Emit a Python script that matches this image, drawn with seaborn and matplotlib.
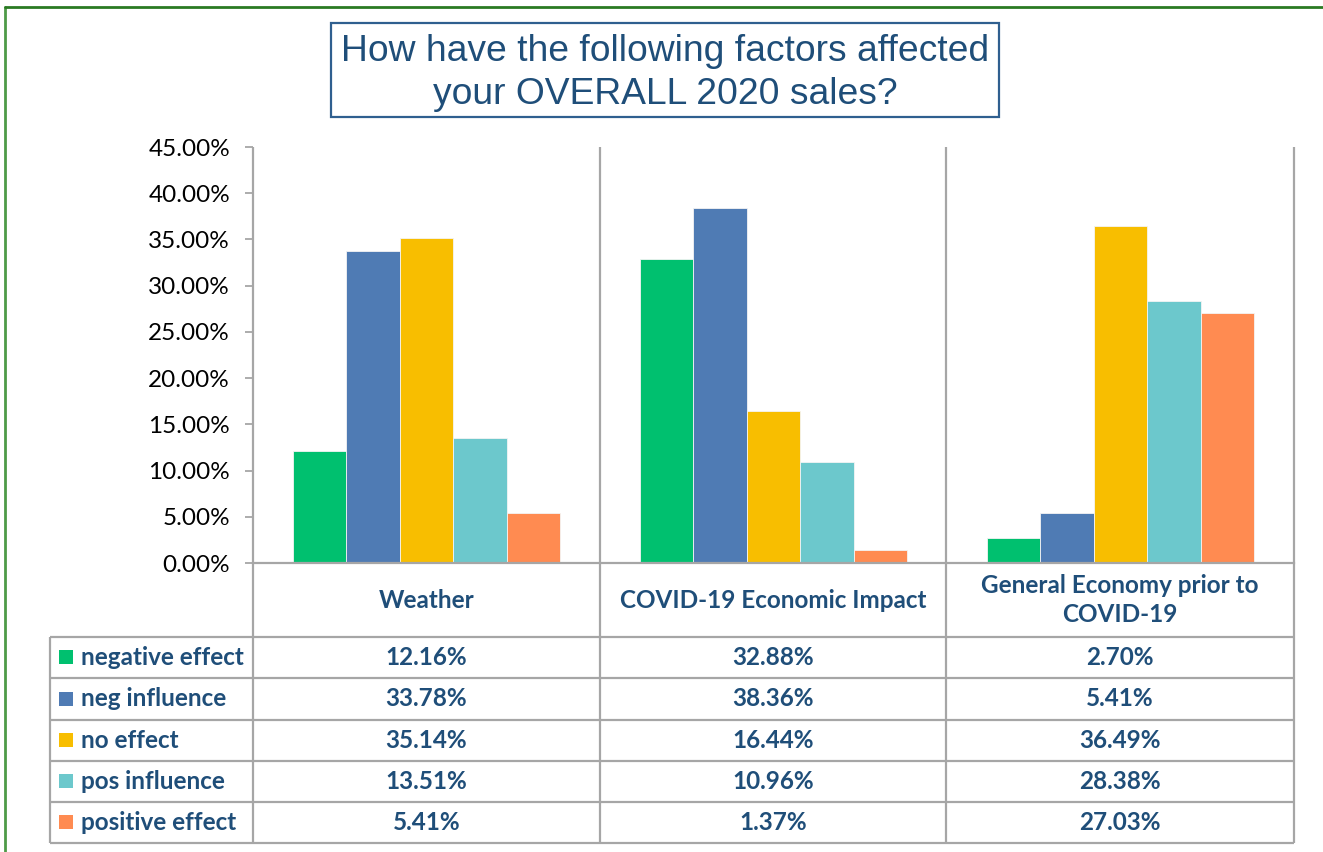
import matplotlib
matplotlib.use("Agg")
import matplotlib.pyplot as plt
from matplotlib.patches import Rectangle
import seaborn as sns
import pandas as pd

# ---- data -------------------------------------------------------------
factors = ["Weather", "COVID-19 Economic Impact", "General Economy prior to\nCOVID-19"]
effects = ["negative effect", "neg influence", "no effect", "pos influence", "positive effect"]
negative_effect = [12.16, 32.88, 2.70]
neg_influence = [33.78, 38.36, 5.41]
no_effect = [35.14, 16.44, 36.49]
pos_influence = [13.51, 10.96, 28.38]
positive_effect = [5.41, 1.37, 27.03]
y_ticks = [0, 5, 10, 15, 20, 25, 30, 35, 40, 45]
title = "How have the following factors affected\nyour OVERALL 2020 sales?"

series = [negative_effect, neg_influence, no_effect, pos_influence, positive_effect]
colors = ["#00C06F", "#4F7BB4", "#F8BE00", "#6CC8CC", "#FF8B51"]

rows = []
for eff, vals in zip(effects, series):
    for fac, v in zip(factors, vals):
        rows.append({"factor": fac, "effect": eff, "value": v})
df = pd.DataFrame(rows)

# ---- figure -----------------------------------------------------------
W, H = 1323, 852
sns.set_theme(style="white")
plt.rcParams["font.family"] = ["Lato", "DejaVu Sans"]
fig = plt.figure(figsize=(W / 100, H / 100), dpi=100)
fig.patch.set_facecolor("white")

grid_c = "#A6A6A6"
text_c = "#1F4E79"
tfs = 17.5  # table font size

# plot area in pixel coordinates
px_l, px_r, px_t, px_b = 253, 1294, 147, 563
ax = fig.add_axes([px_l / W, 1 - px_b / H, (px_r - px_l) / W, (px_b - px_t) / H])
sns.barplot(data=df, x="factor", y="value", hue="effect", hue_order=effects,
            order=factors, palette=colors, saturation=1, width=0.77, gap=0,
            linewidth=0.6, edgecolor="#F4F4F4", legend=False, ax=ax)
ax.set_xlim(-0.5, 2.5)
ax.set_ylim(0, 45)
ax.set_yticks(y_ticks)
ax.set_yticklabels([f"{t:.2f}%" for t in y_ticks], fontsize=17.5, color="black")
ax.set_xticks([])
ax.set_xlabel("")
ax.set_ylabel("")
for s in ["top", "right", "left"]:
    ax.spines[s].set_visible(False)
ax.spines["bottom"].set_color(grid_c)
ax.spines["bottom"].set_linewidth(1.6)
ax.tick_params(axis="y", direction="out", length=6, width=1.3, color=grid_c,
               left=True, pad=10.5)

# ---- overlay: frame, title box, data table -----------------------------
ov = fig.add_axes([0, 0, 1, 1], zorder=5)
ov.set_xlim(0, W)
ov.set_ylim(H, 0)
ov.axis("off")
ov.patch.set_alpha(0)

# outer green frame
ov.plot([5, 5], [H, 7], color="#4E9A48", lw=2)
ov.plot([5, W], [7, 7], color="#2A7A22", lw=2)

# title box
ov.add_patch(Rectangle((331, 23), 668, 94, fill=False, edgecolor="#2F5F8F", lw=1.6))
ov.text(665, 73, title, ha="center", va="center", fontsize=26.8, color=text_c,
        family=["Liberation Sans", "DejaVu Sans"], linespacing=1.32)

# vertical grid lines (axis + category separators)
col_x = [253, 600, 946, 1294]
for x in col_x:
    ov.plot([x, x], [px_t, 843], color=grid_c, lw=1.6, solid_capstyle="butt")

# horizontal table lines
row_y = [637, 678, 720, 761, 802, 843]
for y in row_y:
    ov.plot([50, 1294], [y, y], color=grid_c, lw=1.6, solid_capstyle="butt")
ov.plot([50, 50], [637, 843], color=grid_c, lw=1.6, solid_capstyle="butt")

# category header
centers = [(col_x[i] + col_x[i + 1]) / 2 for i in range(3)]
for cx, fac in zip(centers, factors):
    ov.text(cx, 600, fac, ha="center", va="center", fontsize=tfs,
            fontweight="bold", color=text_c, linespacing=1.3)

# data rows with legend keys
for i, (eff, vals, c) in enumerate(zip(effects, series, colors)):
    yc = (row_y[i] + row_y[i + 1]) / 2
    ov.add_patch(Rectangle((59, yc - 7.5), 14, 14, facecolor=c, edgecolor="none"))
    ov.text(81, yc, eff, ha="left", va="center", fontsize=tfs,
            fontweight="bold", color=text_c)
    for cx, v in zip(centers, vals):
        ov.text(cx, yc, f"{v:.2f}%", ha="center", va="center", fontsize=tfs,
                fontweight="bold", color=text_c)

fig.savefig("out.png", dpi=100, facecolor="white")
